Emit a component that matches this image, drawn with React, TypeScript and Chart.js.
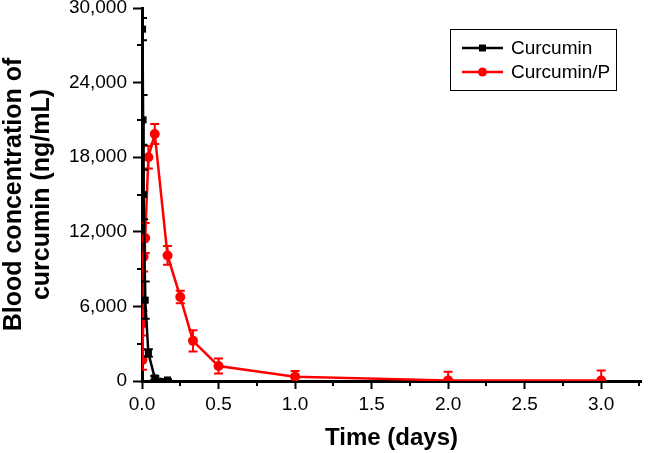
import React, { useEffect, useRef } from "react";
import { Chart, registerables } from "chart.js";

Chart.register(...registerables);

// ---- data (time in days, concentration in ng/mL) ----
const curcuminTime = [0.00347, 0.00694, 0.0104, 0.0208, 0.0417, 0.0833, 0.1667];
const curcuminConc = [28300, 21000, 15000, 6500, 2250, 250, 80];
const curcuminErr = [900, 2000, 2000, 1500, 300, 150, 60];

const curcuminPTime = [0.00347, 0.00694, 0.0104, 0.0208, 0.0417, 0.0833, 0.1667, 0.25, 0.3333, 0.5, 1, 2, 3];
const curcuminPConc = [1700, 4650, 10000, 11500, 18000, 19870, 10100, 6760, 3230, 1200, 350, 50, 40];
const curcuminPErr = [800, 1000, 1200, 1200, 900, 800, 750, 500, 850, 600, 450, 700, 800];

const seriesNames = ["Curcumin", "Curcumin/P"];
const yTickValues = [0, 6000, 12000, 18000, 24000, 30000];
const xTickValues = [0, 0.5, 1, 1.5, 2, 2.5, 3];

const FONT = '"Liberation Sans", Arial, Helvetica, sans-serif';

const errorBarPlugin = {
  id: "errorBars",
  afterDatasetDraw(chart: any, args: any) {
    const ds = chart.data.datasets[args.index];
    const errs: number[] | undefined = ds.errors;
    if (!errs) return;
    const { ctx, chartArea, scales } = chart;
    const xs = scales.x;
    const ys = scales.y;
    ctx.save();
    ctx.beginPath();
    ctx.rect(chartArea.left, 0, chartArea.right - chartArea.left, chartArea.bottom);
    ctx.clip();
    ctx.strokeStyle = ds.borderColor;
    ctx.lineWidth = 2;
    const cap = 4.5;
    ds.data.forEach((p: any, i: number) => {
      const x = xs.getPixelForValue(p.x);
      const yt = ys.getPixelForValue(p.y + errs[i]);
      const yb = ys.getPixelForValue(p.y - errs[i]);
      ctx.beginPath();
      ctx.moveTo(x, yt);
      ctx.lineTo(x, yb);
      ctx.moveTo(x - cap, yt);
      ctx.lineTo(x + cap, yt);
      ctx.moveTo(x - cap, yb);
      ctx.lineTo(x + cap, yb);
      ctx.stroke();
    });
    ctx.restore();
  },
};

const minorTickPlugin = {
  id: "minorTicks",
  afterDraw(chart: any) {
    const { ctx, chartArea, scales } = chart;
    const xs = scales.x;
    const ys = scales.y;
    ctx.save();
    ctx.strokeStyle = "#000";
    ctx.lineWidth = 2;
    ctx.beginPath();
    for (let v = 3000; v < 30000; v += 6000) {
      const y = Math.round(ys.getPixelForValue(v));
      ctx.moveTo(chartArea.left - 5, y);
      ctx.lineTo(chartArea.left, y);
    }
    for (let v = 0.25; v <= xs.max; v += 0.5) {
      const x = Math.round(xs.getPixelForValue(v));
      ctx.moveTo(x, chartArea.bottom);
      ctx.lineTo(x, chartArea.bottom + 5);
    }
    ctx.stroke();
    ctx.restore();
  },
};

const legendPlugin = {
  id: "customLegend",
  afterDraw(chart: any) {
    const { ctx } = chart;
    const box = { x: 450.5, y: 29.5, w: 166, h: 61 };
    ctx.save();
    ctx.strokeStyle = "#000";
    ctx.lineWidth = 1;
    ctx.strokeRect(box.x, box.y, box.w, box.h);
    chart.data.datasets.forEach((ds: any, i: number) => {
      const y = 48 + i * 24;
      const x0 = 462;
      const x1 = 503;
      const xm = (x0 + x1) / 2;
      ctx.strokeStyle = ds.borderColor;
      ctx.lineWidth = 2.5;
      ctx.beginPath();
      ctx.moveTo(x0, y);
      ctx.lineTo(x1, y);
      ctx.stroke();
      ctx.fillStyle = ds.borderColor;
      ctx.beginPath();
      if (ds.pointStyle === "rect") {
        ctx.rect(xm - 3.5, y - 3.5, 7, 7);
      } else {
        ctx.arc(xm, y, 4.5, 0, Math.PI * 2);
      }
      ctx.fill();
      ctx.fillStyle = "#000";
      ctx.font = `19px ${FONT}`;
      ctx.textAlign = "left";
      ctx.textBaseline = "middle";
      ctx.fillText(ds.label, 511, y + 1);
    });
    ctx.restore();
  },
};

export default function App() {
  const canvasRef = useRef<HTMLCanvasElement | null>(null);

  useEffect(() => {
    if (!canvasRef.current) return;
    const chart = new Chart(canvasRef.current, {
      type: "scatter",
      data: {
        datasets: [
          {
            label: seriesNames[0],
            data: curcuminTime.map((t, i) => ({ x: t, y: curcuminConc[i] })),
            errors: curcuminErr,
            showLine: true,
            borderColor: "#000000",
            backgroundColor: "#000000",
            borderWidth: 2.5,
            pointStyle: "rect",
            pointRadius: 5,
            pointBorderWidth: 0,
            pointHoverRadius: 5,
          } as any,
          {
            label: seriesNames[1],
            data: curcuminPTime.map((t, i) => ({ x: t, y: curcuminPConc[i] })),
            errors: curcuminPErr,
            showLine: true,
            borderColor: "#ff0000",
            backgroundColor: "#ff0000",
            borderWidth: 2.5,
            pointStyle: "circle",
            pointRadius: 5,
            pointBorderWidth: 0,
            pointHoverRadius: 5,
          } as any,
        ],
      },
      options: {
        animation: false,
        responsive: false,
        events: [],
        layout: { padding: { left: 0, top: 8, right: 7, bottom: 0 } },
        plugins: {
          legend: { display: false },
          tooltip: { enabled: false },
        },
        scales: {
          x: {
            type: "linear",
            min: 0,
            max: 3.26,
            afterBuildTicks: (scale: any) => {
              scale.ticks = xTickValues.map((v) => ({ value: v }));
            },
            afterFit: (scale: any) => {
              scale.height = 72;
              scale.paddingLeft = 0;
              scale.paddingRight = 0;
            },
            ticks: {
              color: "#000",
              font: { family: FONT, size: 19 },
              padding: 4,
              maxRotation: 0,
              callback: (v: any) => Number(v).toFixed(1),
            },
            grid: {
              drawOnChartArea: false,
              drawTicks: true,
              tickLength: 8,
              tickWidth: 2,
              tickColor: "#000",
            },
            border: { display: true, color: "#000", width: 3 },
            title: {
              display: true,
              text: "Time (days)",
              color: "#000",
              font: { family: FONT, size: 24, weight: "bold", lineHeight: 1.05 },
              padding: { top: 0, bottom: 2 },
            },
          },
          y: {
            type: "linear",
            min: 0,
            max: 30000,
            afterBuildTicks: (scale: any) => {
              scale.ticks = yTickValues.map((v) => ({ value: v }));
            },
            afterFit: (scale: any) => {
              scale.width = 142;
              scale.paddingTop = 0;
              scale.paddingBottom = 0;
            },
            ticks: {
              color: "#000",
              font: { family: FONT, size: 19 },
              padding: 6,
              callback: (v: any) => Number(v).toLocaleString("en-US"),
            },
            grid: {
              drawOnChartArea: false,
              drawTicks: true,
              tickLength: 9,
              tickWidth: 2,
              tickColor: "#000",
            },
            border: { display: true, color: "#000", width: 3 },
            title: {
              display: true,
              text: ["Blood concentration of", "curcumin (ng/mL)"],
              color: "#000",
              font: { family: FONT, size: 25, weight: "bold", lineHeight: 1.12 },
              padding: { top: 0, bottom: 0 },
            },
          },
        },
      } as any,
      plugins: [errorBarPlugin, minorTickPlugin, legendPlugin],
    });
    return () => chart.destroy();
  }, []);

  return (
    <div style={{ position: "fixed", left: 0, top: 0, width: 648, height: 453, background: "#fff" }}>
      <canvas ref={canvasRef} width={648} height={453} style={{ display: "block" }} />
    </div>
  );
}
